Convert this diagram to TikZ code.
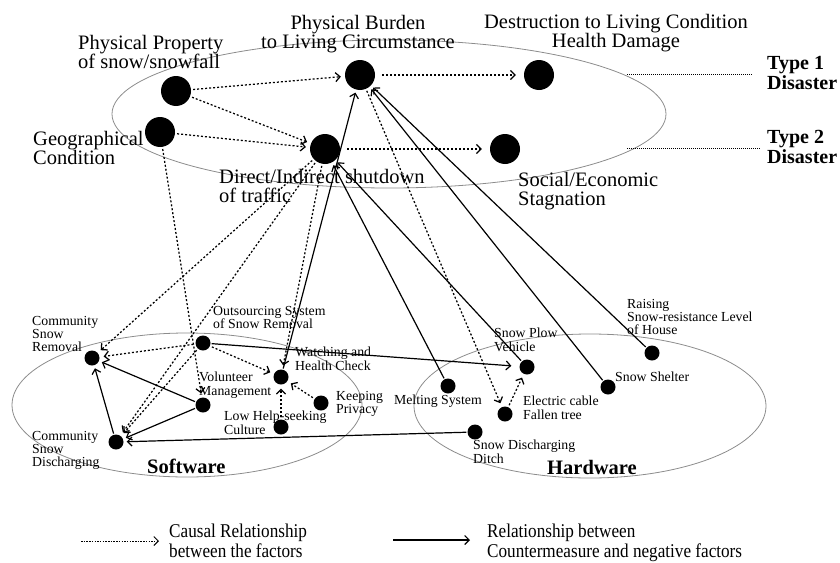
\documentclass[tikz,border=0pt]{standalone}
\usepackage{fontspec}
\setmainfont{Liberation Serif}
\newfontfamily\legendfont[FakeStretch=0.88]{Liberation Serif}
\usetikzlibrary{arrows.meta}
\begin{document}
\begin{tikzpicture}[x=1pt,y=-1pt,
  big/.style={circle,fill=black,minimum size=30pt,inner sep=0},
  small/.style={circle,fill=black,minimum size=15pt,inner sep=0},
  grp/.style={draw=black!45,line width=0.8pt},
  tip/.style={-{Straight Barb[length=4.5pt,width=9pt]}},
  causal/.style={tip,line width=1.25pt,dash pattern=on 2pt off 2pt,shorten >=4pt,shorten <=2pt},
  counter/.style={tip,line width=1.2pt,shorten >=3pt,shorten <=1pt},
  typeline/.style={line width=0.7pt,dash pattern=on 1pt off 1pt},
  biglbl/.style={font=\fontsize{20.5}{19.5}\selectfont,inner sep=0,align=left},
  smalllbl/.style={font=\fontsize{13.8}{13.3}\selectfont,inner sep=0,align=left},
  typelbl/.style={font=\bfseries\fontsize{20}{20}\selectfont,inner sep=0,align=left},
  grplbl/.style={font=\bfseries\fontsize{20.5}{20}\selectfont,inner sep=0},
  leglbl/.style={font=\legendfont\fontsize{19.5}{19.5}\selectfont,inner sep=0,align=left}
]
\useasboundingbox (0,0) rectangle (840,562);

% group ellipses
\draw[grp] (389,114) ellipse [x radius=277pt, y radius=74pt];
\draw[grp] (187,405) ellipse [x radius=175pt, y radius=72pt];
\draw[grp] (590,406) ellipse [x radius=176pt, y radius=72pt];

% negative factor nodes
\node[big] (PP) at (176,91) {};
\node[big] (GC) at (160,132) {};
\node[big] (PB) at (360,75) {};
\node[big] (DT) at (325,149) {};
\node[big] (DL) at (539,75) {};
\node[big] (SE) at (505,149) {};

% software nodes
\node[small] (CSR) at (92,358) {};
\node[small] (OSR) at (203,343) {};
\node[small] (VM) at (203,405) {};
\node[small] (WHC) at (281,377) {};
\node[small] (KP) at (321,403) {};
\node[small] (LHC) at (281,427) {};
\node[small] (CSD) at (116,442) {};

% hardware nodes
\node[small] (SPV) at (527,367) {};
\node[small] (MS) at (448,386) {};
\node[small] (EC) at (505,414) {};
\node[small] (SDD) at (475,432) {};
\node[small] (SS) at (608,387) {};
\node[small] (RS) at (652,353) {};

% labels, top
\node[biglbl,anchor=north west] (lPP) at (78,35) {Physical Property\\of snow/snowfall};
\node[biglbl,align=center,anchor=north] (lPB) at (358,15) {Physical Burden\\to Living Circumstance};
\node[biglbl,align=center,anchor=north] (lDL) at (616,14) {Destruction to Living Condition\\Health Damage};
\node[biglbl,anchor=north west] (lGC) at (33,131) {Geographical\\Condition};
\node[biglbl,anchor=north west] (lDT) at (219,169) {Direct/Indirect shutdown\\of traffic};
\node[biglbl,anchor=north west] (lSE) at (518,172) {Social/Economic\\Stagnation};

% type labels
\coordinate (t1a) at (627,74);
\coordinate (t1b) at (753,74);
\coordinate (t2a) at (627,148);
\coordinate (t2b) at (760,148);
\draw[typeline] (t1a) -- (t1b);
\draw[typeline] (t2a) -- (t2b);
\node[typelbl,anchor=north west] (ty1) at (767,56) {Type 1\\Disaster};
\node[typelbl,anchor=north west] (ty2) at (767,130) {Type 2\\Disaster};

% labels, software
\node[smalllbl,anchor=north west] (lCSR) at (32,316) {Community\\Snow\\Removal};
\node[smalllbl,anchor=north west] (lOSR) at (213,306) {Outsourcing System\\of Snow Removal};
\node[smalllbl,anchor=north west] (lWHC) at (295,347) {Watching and\\Health Check};
\node[smalllbl,anchor=north west] (lVM) at (199,372) {Volunteer\\Management};
\node[smalllbl,anchor=north west] (lKP) at (336,391) {Keeping\\Privacy};
\node[smalllbl,anchor=north west] (lLHC) at (224,411) {Low Help-seeking\\Culture};
\node[smalllbl,anchor=north west] (lCSD) at (32,431) {Community\\Snow\\Discharging};
\node[grplbl,anchor=north west] (lSW) at (147,459) {Software};

% labels, hardware
\node[smalllbl,anchor=north west] (lRS) at (627,299) {Raising\\Snow-resistance Level\\of House};
\node[smalllbl,anchor=north west] (lSPV) at (494,328) {Snow Plow\\Vehicle};
\node[smalllbl,anchor=north west] (lSS) at (615,372) {Snow Shelter};
\node[smalllbl,anchor=north east] (lMS) at (482,395) {Melting System};
\node[smalllbl,anchor=north west] (lEC) at (523,396) {Electric cable\\Fallen tree};
\node[smalllbl,anchor=north west] (lSDD) at (473,440) {Snow Discharging\\Ditch};
\node[grplbl,anchor=north west] (lHW) at (547,460) {Hardware};

% causal relationships
\draw[causal] (PP) -- (PB);
\draw[causal] (PP) -- (DT);
\draw[causal] (GC) -- (DT);
\draw[causal,shorten >=8pt,shorten <=7pt] (PB) -- (DL);
\draw[causal,shorten >=8pt,shorten <=7pt] (DT) -- (SE);
\draw[causal] (GC) -- (VM);
\draw[causal] (DT) -- (CSR);
\draw[causal] (DT) -- (CSD);
\draw[causal] (DT) -- (WHC);
\draw[causal] (PB) -- (EC);
\draw[causal] (EC) -- (SPV);
\draw[causal] (OSR) -- (CSR);
\draw[causal] (OSR) -- (CSD);
\draw[causal] (OSR) -- (WHC);
\draw[causal] (LHC) -- (WHC);
\draw[causal] (KP) -- (WHC);

% countermeasure relationships
\draw[counter] (WHC) -- (PB);
\draw[counter] (SS) -- (PB);
\draw[counter] (RS) -- (PB);
\draw[counter] (MS) -- (DT);
\draw[counter] (SPV) -- (DT);
\draw[counter,shorten >=8pt] (OSR) -- (SPV);
\draw[counter] (SDD) -- (CSD);
\draw[counter] (VM) -- (CSR);
\draw[counter] (VM) -- (CSD);
\draw[counter] (CSD) -- (CSR);

% legend
\coordinate (lg1a) at (81,541);
\coordinate (lg1b) at (159,541);
\coordinate (lg2a) at (393,540);
\coordinate (lg2b) at (470,540);
\draw[tip,line width=1pt,dash pattern=on 1.5pt off 1.2pt] (lg1a) -- (lg1b);
\draw[tip,line width=1.1pt] (lg2a) -- (lg2b);
\node[leglbl,anchor=north west] (lgt1) at (169,524) {Causal Relationship\\between the factors};
\node[leglbl,anchor=north west] (lgt2) at (487,524) {Relationship between\\Countermeasure and negative factors};
\end{tikzpicture}
\end{document}
